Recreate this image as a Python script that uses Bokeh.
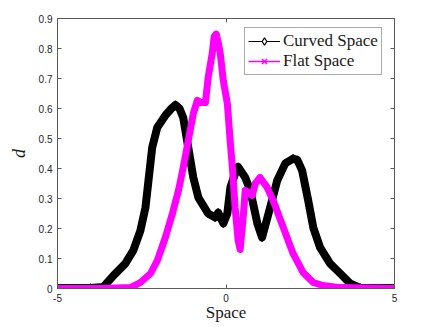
from bokeh.plotting import figure
from bokeh.models import LinearAxis, Legend, LegendItem, FixedTicker, Range1d
from bokeh.embed import file_html
from bokeh.resources import INLINE

# ---- data ----
curved_x = [-5.0, -4.02, -3.64, -3.34, -2.99, -2.75, -2.54, -2.39, -2.30, -2.19,
            -2.04, -1.80, -1.62, -1.50, -1.38, -1.27, -1.12, -0.97, -0.82, -0.53, -0.32, -0.23,
            -0.08, 0.04, 0.13, 0.33, 0.36, 0.57, 0.72, 0.93, 1.07, 1.31,
            1.52, 1.76, 1.99, 2.12, 2.26, 2.44, 2.59, 2.79, 3.09, 3.39, 3.68,
            3.98, 5.0]
curved_y = [0.002, 0.002, 0.005, 0.043, 0.083, 0.127, 0.193, 0.27, 0.36, 0.47,
            0.537, 0.577, 0.600, 0.612, 0.600, 0.57, 0.47, 0.37, 0.303, 0.25, 0.237, 0.253,
            0.217, 0.25, 0.337, 0.403, 0.405, 0.37, 0.327, 0.217, 0.17, 0.27,
            0.36, 0.417, 0.433, 0.428, 0.393, 0.293, 0.203, 0.137, 0.083, 0.05, 0.017,
            0.002, 0.002]

flat_x = [-5.0, -3.73, -2.84, -2.54, -2.24, -2.04, -1.80, -1.59, -1.41, -1.27,
          -1.12, -0.97, -0.85, -0.76, -0.61, -0.53, -0.41, -0.35, -0.29, -0.23,
          -0.17, -0.08, 0.04, 0.13, 0.19, 0.27, 0.36, 0.42, 0.51, 0.57,
          0.66, 0.78, 0.87, 1.01, 1.22, 1.40, 1.70, 1.99, 2.29, 2.59,
          2.88, 3.39, 5.0]
flat_y = [0.0, 0.0, 0.003, 0.02, 0.05, 0.093, 0.17, 0.25, 0.327, 0.403,
          0.493, 0.583, 0.627, 0.62, 0.62, 0.703, 0.783, 0.84, 0.848, 0.82,
          0.783, 0.693, 0.617, 0.483, 0.403, 0.27, 0.16, 0.13, 0.237, 0.327,
          0.32, 0.31, 0.35, 0.37, 0.337, 0.293, 0.203, 0.117, 0.053, 0.02,
          0.01, 0.003, 0.0]

x_ticks = [-5, 0, 5]
x_tick_labels = ["-5", "0", "5"]
y_ticks = [0, 0.1, 0.2, 0.3, 0.4, 0.5, 0.6, 0.7, 0.8, 0.9]
y_tick_labels = ["0", "0.1", "0.2", "0.3", "0.4", "0.5", "0.6", "0.7", "0.8", "0.9"]

series_names = ["Curved Space", "Flat Space"]

# ---- figure ----
p = figure(width=436, height=327, x_range=Range1d(-5, 5), y_range=Range1d(0, 0.9),
           output_backend="svg", toolbar_location=None,
           min_border_left=57, min_border_right=42, min_border_top=18, min_border_bottom=39)
p.xgrid.visible = False
p.ygrid.visible = False
p.outline_line_color = None
p.background_fill_color = "white"
p.border_fill_color = "white"

AX = "#5a5a5a"
TXT = "#262626"

def style_axis(ax):
    ax.axis_line_color = AX
    ax.axis_line_width = 1
    ax.major_tick_line_color = AX
    ax.major_tick_in = 4
    ax.major_tick_out = 0
    ax.minor_tick_line_color = None
    ax.major_label_text_font = "Liberation Sans"
    ax.major_label_text_font_size = "10px"
    ax.major_label_text_color = TXT

xa = p.xaxis[0]
style_axis(xa)
xa.ticker = FixedTicker(ticks=x_ticks)
xa.major_label_overrides = dict(zip(x_ticks, x_tick_labels))
xa.major_label_standoff = 5
xa.axis_label = "Space"
xa.axis_label_text_font = "Liberation Serif"
xa.axis_label_text_font_style = "normal"
xa.axis_label_text_font_size = "17px"
xa.axis_label_text_color = "#1a1a1a"
xa.axis_label_standoff = -2

ya = p.yaxis[0]
style_axis(ya)
ya.ticker = FixedTicker(ticks=y_ticks)
ya.major_label_overrides = dict(zip(y_ticks, y_tick_labels))
ya.major_label_standoff = 5
ya.axis_label = "d"
ya.axis_label_text_font = "Liberation Serif"
ya.axis_label_text_font_style = "italic"
ya.axis_label_text_font_size = "18px"
ya.axis_label_text_color = "#1a1a1a"
ya.axis_label_standoff = 7

# mirrored box axes: ticks only (drawn as minor ticks, so no labels)
def box_axis(ticks):
    ax = LinearAxis(ticker=FixedTicker(ticks=[], minor_ticks=ticks))
    ax.axis_line_color = AX
    ax.axis_line_width = 1
    ax.major_tick_line_color = None
    ax.minor_tick_line_color = AX
    ax.minor_tick_in = 4
    ax.minor_tick_out = 0
    ax.major_label_standoff = 0
    return ax

p.add_layout(box_axis(x_ticks), "above")
p.add_layout(box_axis(y_ticks), "right")

BLACK = "#000000"
MAG = "#ff00ff"

# curved space: thin line + open diamonds (legend look), covered by the dense band
c_thin = p.line(curved_x, curved_y, line_color=BLACK, line_width=1.2)
c_mark = p.scatter(curved_x, curved_y, marker="diamond", size=8,
                   line_color=BLACK, fill_color="white", line_width=1.2)
p.line(curved_x, curved_y, line_color=BLACK, line_width=8,
       line_join="round", line_cap="round")

f_thin = p.line(flat_x, flat_y, line_color=MAG, line_width=1.5)
f_mark = p.scatter(flat_x, flat_y, marker="x", size=6, line_color=MAG, line_width=1.5)
p.line(flat_x, flat_y, line_color=MAG, line_width=7,
       line_join="round", line_cap="round")

legend = Legend(items=[LegendItem(label=series_names[0], renderers=[c_thin, c_mark]),
                       LegendItem(label=series_names[1], renderers=[f_thin, f_mark])],
                location=(187, 213))
legend.label_text_font = "Liberation Serif"
legend.label_text_font_size = "17px"
legend.label_text_color = "#1a1a1a"
legend.glyph_width = 32
legend.glyph_height = 18
legend.label_height = 18
legend.label_standoff = 3
legend.padding = 3
legend.spacing = 0
legend.margin = 0
legend.border_line_color = "#555555"
legend.border_line_width = 1
legend.background_fill_color = "white"
legend.background_fill_alpha = 1
p.add_layout(legend)

open("out.html", "w").write(file_html(p, INLINE))
